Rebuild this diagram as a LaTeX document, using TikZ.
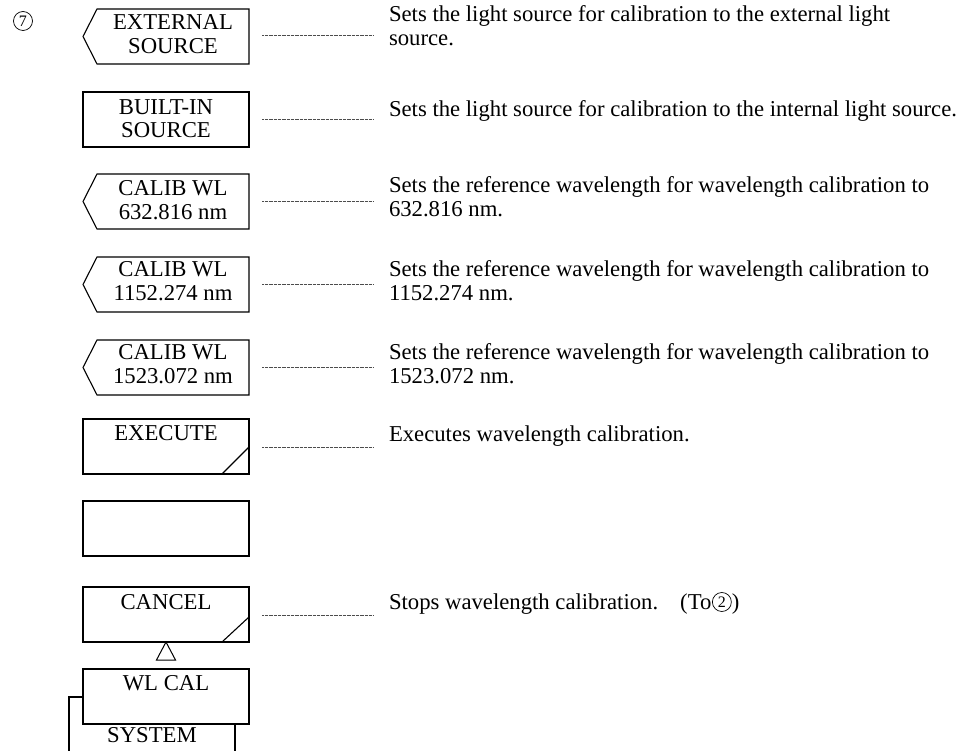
\documentclass[tikz,border=0pt]{standalone}
\usepackage{fontspec}
\setmainfont{Liberation Serif}
\begin{document}
\begin{tikzpicture}[x=1pt,y=-1pt,
  every node/.style={font=\fontsize{22.7}{24.5}\selectfont, inner sep=0pt, outer sep=0pt},
  keybox/.style={draw, line width=1.1pt, minimum width=166pt, minimum height=55pt, anchor=north west},
  ptbox/.style={minimum width=152pt, minimum height=55pt, anchor=north west},
  keytext/.style={anchor=base, align=center, font=\fontsize{22.7}{23.5}\selectfont},
  desc/.style={anchor=base west, align=left},
  leader/.style={line width=0.7pt, black!70, dash pattern=on 0.8pt off 0.5pt},
  slash/.style={line width=1.1pt},
  circnum/.style={draw, circle, line width=0.7pt, minimum size=19pt, font=\fontsize{16}{16}\selectfont},
]
\useasboundingbox (0,0) rectangle (962,751);

% circled 7
\node[circnum] (c7) at (23,21) {7};

% EXTERNAL SOURCE (pointed)
\node[ptbox] (ext) at (97,9) {};
\draw[line width=1.1pt] (ext.north east) -- (ext.north west) -- ([xshift=-14pt]ext.west) -- (ext.south west) -- (ext.south east) -- cycle;
\node[keytext] (extt) at (173,53.5) {EXTERNAL\\SOURCE};

% BUILT-IN SOURCE
\node[keybox] (bin) at (83,92) {};
\node[keytext] (bint) at (166,138) {BUILT-IN\\SOURCE};

% CALIB WL 632
\node[ptbox] (c1) at (97,174) {};
\draw[line width=1.1pt] (c1.north east) -- (c1.north west) -- ([xshift=-14pt]c1.west) -- (c1.south west) -- (c1.south east) -- cycle;
\node[keytext] (c1t) at (173,219.5) {CALIB WL\\632.816 nm};

% CALIB WL 1152
\node[ptbox] (c2) at (97,257) {};
\draw[line width=1.1pt] (c2.north east) -- (c2.north west) -- ([xshift=-14pt]c2.west) -- (c2.south west) -- (c2.south east) -- cycle;
\node[keytext] (c2t) at (173,300.5) {CALIB WL\\1152.274 nm};

% CALIB WL 1523
\node[ptbox] (c3) at (97,340) {};
\draw[line width=1.1pt] (c3.north east) -- (c3.north west) -- ([xshift=-14pt]c3.west) -- (c3.south west) -- (c3.south east) -- cycle;
\node[keytext] (c3t) at (173,383.5) {CALIB WL\\1523.072 nm};

% EXECUTE
\node[keybox] (exe) at (83,419) {};
\node[keytext] (exet) at (166,441) {EXECUTE};
\draw[slash] ([xshift=-27pt]exe.south east) -- ([yshift=27pt]exe.south east);

% blank
\node[keybox] (blank) at (83,501) {};

% CANCEL
\node[keybox] (can) at (83,587) {};
\node[keytext] (cant) at (166,609) {CANCEL};
\draw[slash] ([xshift=-27pt]can.south east) -- ([yshift=25pt]can.south east);

% triangle
\draw[line width=1pt] (can.south) -- ++(-9.5,18) -- ++(19,0) -- cycle;

% SYSTEM (behind)
\node[draw, line width=1.1pt, minimum width=166pt, minimum height=80pt, anchor=north west] (sys) at (69,697) {};
\node[keytext] (syst) at (152,742) {SYSTEM};

% WL CAL
\node[keybox, fill=white] (wl) at (83,669) {};
\node[keytext] (wlt) at (166,690) {WL CAL};

% descriptions
\node[desc] (dext) at (389,46) {Sets the light source for calibration to the external light\\source.};
\node[desc] (dbin) at (389,117) {Sets the light source for calibration to the internal light source.};
\node[desc] (dc1) at (389,217) {Sets the reference wavelength for wavelength calibration to\\632.816 nm.};
\node[desc] (dc2) at (389,301) {Sets the reference wavelength for wavelength calibration to\\1152.274 nm.};
\node[desc] (dc3) at (389,384) {Sets the reference wavelength for wavelength calibration to\\1523.072 nm.};
\node[desc] (dexe) at (389,442) {Executes wavelength calibration.};
\node[desc] (dcan) at (389,609) {Stops wavelength calibration.\hspace{22pt}(To};
\node[circnum, anchor=west] (c2c) at ([xshift=1pt,yshift=7pt]dcan.base east) {2};
\node[anchor=base west] (dcanr) at ([xshift=0.5pt]c2c.east |- dcan.base) {)};

% leaders
\coordinate (l1a) at (262,35); \coordinate (l1b) at (373,35);
\draw[leader] (l1a) -- (l1b);
\coordinate (l2a) at (262,119); \coordinate (l2b) at (373,119);
\draw[leader] (l2a) -- (l2b);
\coordinate (l3a) at (262,201); \coordinate (l3b) at (373,201);
\draw[leader] (l3a) -- (l3b);
\coordinate (l4a) at (262,284); \coordinate (l4b) at (373,284);
\draw[leader] (l4a) -- (l4b);
\coordinate (l5a) at (262,367); \coordinate (l5b) at (373,367);
\draw[leader] (l5a) -- (l5b);
\coordinate (l6a) at (262,447); \coordinate (l6b) at (373,447);
\draw[leader] (l6a) -- (l6b);
\coordinate (l7a) at (262,615); \coordinate (l7b) at (373,615);
\draw[leader] (l7a) -- (l7b);
\end{tikzpicture}
\end{document}
